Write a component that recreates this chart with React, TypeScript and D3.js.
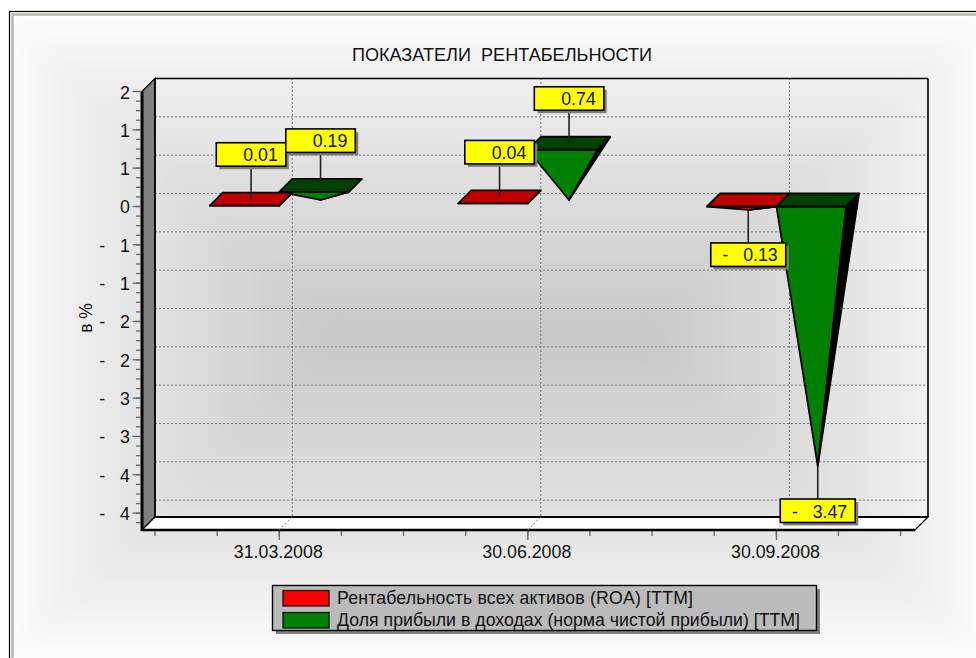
import React from "react";
import * as d3 from "d3";

const categories = ["31.03.2008", "30.06.2008", "30.09.2008"];
const roa = [0.01, 0.04, -0.13];
const margin = [0.19, 0.74, -3.47];
const roaLabels = ["0.01", "0.04", "-   0.13"];
const marginLabels = ["0.19", "0.74", "-   3.47"];
const yTicks = [1.5, 1, 0.5, 0, -0.5, -1, -1.5, -2, -2.5, -3, -3.5, -4];
const yTickLabels = ["2", "1", "1", "0", "-   1", "-   1", "-   2", "-   2", "-   3", "-   3", "-   4", "-   4"];
const legendLabels = [
  "Рентабельность всех активов (ROA) [TTM]",
  "Доля прибыли в доходах (норма чистой прибыли) [TTM]",
];
const legendWidths = [356, 463];

const font = "'Liberation Sans', Arial, sans-serif";
const DEPTH = 13;
const BAR_W = 69.5;
const x = d3.scaleLinear().domain([0, 1, 2]).range([279.3, 527.8, 776.5]);
const y = d3.scaleLinear().domain([1.5, -4.22]).range([91.5, 530]);
const L = 142, R = 915, T = y(1.5), B = 530;
const minorX = d3.range(-2, 11).map((i) => x(0) + i * (x(1) - x(0)) / 4);
const minorY = d3.range(1.5, -4.2, -0.125);
const poly = (p: number[][]) => p.map((q) => q.join(",")).join(" ");

const RX0 = 340, RX1 = 640, CY = 338;
const PX0 = -5, PX1 = 1000, PY0 = 5, PY1 = 670;
const shadeStops = [
  [0, "#c8c8c8"],
  [0.25, "#d4d4d4"],
  [0.5, "#e0e0e0"],
  [0.72, "#ececec"],
  [1, "#ffffff"],
];

function Grad({ id, x1, y1, x2, y2 }: any) {
  return (
    <linearGradient id={id} gradientUnits="userSpaceOnUse" x1={x1} y1={y1} x2={x2} y2={y2}>
      {shadeStops.map((s) => <stop key={s[0]} offset={s[0]} stopColor={s[1] as string} />)}
    </linearGradient>
  );
}

function Bar({ cx, v, top, front, side, stroke = "#000" }: any) {
  const yTop = y(Math.max(v, 0));
  const yTip = y(Math.min(v, 0)) - DEPTH / 2;
  const x0 = cx, x1 = cx + BAR_W;
  const tip = [(x0 + x1) / 2 + DEPTH / 2, yTip];
  const fl = [x0, yTop], fr = [x1, yTop];
  const bl = [x0 + DEPTH, yTop - DEPTH], br = [x1 + DEPTH, yTop - DEPTH];
  return (
    <g stroke={stroke} strokeWidth={1.8} strokeLinejoin="round">
      <polygon points={poly([fr, br, tip])} fill={side} />
      <polygon points={poly([fl, fr, tip])} fill={front} />
      <polygon points={poly([fl, fr, br, bl])} fill={top} />
    </g>
  );
}

function Label({ cx, v, text }: any) {
  const yTop = y(Math.max(v, 0));
  const yTip = y(Math.min(v, 0)) - DEPTH / 2;
  const neg = v < 0;
  const sx = cx + BAR_W / 2 + DEPTH / 2;
  const y0 = neg ? yTip : yTop - DEPTH / 2;
  const y1 = neg ? y0 + 33 : y0 - 33;
  const w = neg ? 75 : 69.5, h = 23.5;
  const bx = sx - w / 2;
  const by = neg ? y1 : y1 - h;
  return (
    <g>
      <line x1={sx} x2={sx} y1={y0} y2={y1} stroke="#222" strokeWidth={1.6} />
      <rect x={bx + 3} y={by + 3} width={w} height={h} fill="#808080" />
      <rect x={bx} y={by} width={w} height={h} fill="#ffff00" stroke="#000" strokeWidth={1.6} />
      <text x={bx + w - 8} y={by + 18.5} textAnchor="end" fontSize={17.8} xmlSpace="preserve" style={{ whiteSpace: "pre" }}>{text}</text>
    </g>
  );
}

export default function App() {
  return (
    <svg width={976} height={658} style={{ position: "absolute", left: 0, top: 0, display: "block" }} fontFamily={font} fill="#111">
      <defs>
        <filter id="soft" x="-5%" y="-5%" width="110%" height="110%"><feGaussianBlur stdDeviation="6" /></filter>
        <clipPath id="panel"><rect x={15} y={16} width={961} height={642} /></clipPath>
        <Grad id="gl" x1={RX0} y1={CY} x2={PX0} y2={CY} />
        <Grad id="gr" x1={RX1} y1={CY} x2={PX1} y2={CY} />
        <Grad id="gt" x1={0} y1={CY} x2={0} y2={PY0} />
        <Grad id="gb" x1={0} y1={CY} x2={0} y2={PY1} />
      </defs>
      <rect x={9.5} y={11.5} width={980} height={660} fill="#fff" stroke="#000" strokeWidth={1.2} />
      <rect x={12.5} y={14.5} width={975} height={655} fill="none" stroke="#b8b8b0" strokeWidth={2.5} />
      <g clipPath="url(#panel)">
        <g filter="url(#soft)">
          <polygon points={poly([[RX0, CY], [PX0, PY0], [PX0, PY1]])} fill="url(#gl)" />
          <polygon points={poly([[RX1, CY], [PX1, PY0], [PX1, PY1]])} fill="url(#gr)" />
          <polygon points={poly([[RX0, CY], [RX1, CY], [PX1, PY0], [PX0, PY0]])} fill="url(#gt)" />
          <polygon points={poly([[RX0, CY], [RX1, CY], [PX1, PY1], [PX0, PY1]])} fill="url(#gb)" />
        </g>
      </g>
      <text x={502} y={61} textAnchor="middle" fontSize={18.1} style={{ whiteSpace: "pre" }} xmlSpace="preserve">ПОКАЗАТЕЛИ  РЕНТАБЕЛЬНОСТИ</text>

      {yTicks.map((t) => (
        <line key={t} x1={155} x2={928} y1={y(t) - DEPTH} y2={y(t) - DEPTH} stroke="#777" strokeWidth={1} strokeDasharray="2 2" />
      ))}
      {categories.map((c, i) => (
        <line key={c} x1={x(i) + DEPTH} x2={x(i) + DEPTH} y1={78} y2={517} stroke="#777" strokeWidth={1} strokeDasharray="2 2" />
      ))}

      <polygon points={poly([[L, T], [L + DEPTH, T - DEPTH], [L + DEPTH, B - DEPTH], [L, B]])} fill="#808080" stroke="#000" strokeWidth={1.2} />
      <polygon points={poly([[L, B], [L + DEPTH, B - DEPTH], [R + DEPTH, B - DEPTH], [R, B]])} fill="#fff" stroke="#000" strokeWidth={1.2} />
      <line x1={L + DEPTH} x2={R + DEPTH} y1={T - DEPTH} y2={T - DEPTH} stroke="#000" strokeWidth={1.6} />
      <line x1={L + DEPTH} x2={L + DEPTH} y1={T - DEPTH} y2={B - DEPTH} stroke="#000" strokeWidth={1.6} />
      <line x1={R + DEPTH} x2={R + DEPTH} y1={T - DEPTH} y2={B - DEPTH} stroke="#000" strokeWidth={1.6} />
      <line x1={L + DEPTH} x2={R + DEPTH} y1={B - DEPTH} y2={B - DEPTH} stroke="#000" strokeWidth={1.8} />
      <line x1={L} x2={L} y1={T} y2={B + 1} stroke="#000" strokeWidth={3} />
      <line x1={L} x2={R} y1={B} y2={B} stroke="#000" strokeWidth={2.4} />
      {categories.map((c, i) => (
        <line key={c} x1={x(i)} x2={x(i) + DEPTH} y1={B} y2={B - DEPTH} stroke="#777" strokeWidth={1} strokeDasharray="2 2" />
      ))}

      {minorY.map((t) => (
        <line key={t} x1={136} x2={140.5} y1={y(t)} y2={y(t)} stroke="#666" strokeWidth={1.3} />
      ))}
      {yTicks.map((t, i) => (
        <g key={t}>
          <line x1={132.5} x2={140.5} y1={y(t)} y2={y(t)} stroke="#666" strokeWidth={1.3} />
          <text x={130} y={y(t) + 7} textAnchor="end" fontSize={17.8} style={{ whiteSpace: "pre" }} xmlSpace="preserve">{yTickLabels[i]}</text>
        </g>
      ))}
      {minorX.map((t) => (
        <line key={t} x1={t} x2={t} y1={531} y2={536} stroke="#666" strokeWidth={1.3} />
      ))}
      {categories.map((c, i) => (
        <g key={c}>
          <line x1={x(i)} x2={x(i)} y1={531} y2={540} stroke="#666" strokeWidth={1.3} />
          <text x={x(i) - 1} y={558} textAnchor="middle" fontSize={17.8}>{c}</text>
        </g>
      ))}
      <text transform="translate(92,318) rotate(-90)" textAnchor="middle" fontSize={17.5}>в %</text>

      {categories.map((c, i) => (
        <g key={c}>
          <Bar cx={x(i)} v={margin[i]} top="#004000" front="#008000" side="#000" />
          <Bar cx={x(i) - BAR_W} v={roa[i]} top="#c00000" front="#ff0000" side="#800000" />
        </g>
      ))}
      {categories.map((c, i) => (
        <g key={c}>
          <Label cx={x(i) - BAR_W} v={roa[i]} text={roaLabels[i]} />
          <Label cx={x(i)} v={margin[i]} text={marginLabels[i]} />
        </g>
      ))}

      <rect x={276} y={589} width={544} height={45} fill="#808080" />
      <rect x={272.5} y={585.5} width={544} height={45} fill="#bbbbbb" stroke="#000" strokeWidth={1.4} />
      {legendLabels.map((l, i) => (
        <g key={l}>
          <rect x={283} y={590.5 + i * 22} width={46} height={15.5} fill={i ? "#008000" : "#ff0000"} stroke="#000" strokeWidth={1.2} />
          <text x={337} y={603.5 + i * 22} fontSize={17.7} textLength={legendWidths[i]} lengthAdjust="spacing">{l}</text>
        </g>
      ))}
    </svg>
  );
}
